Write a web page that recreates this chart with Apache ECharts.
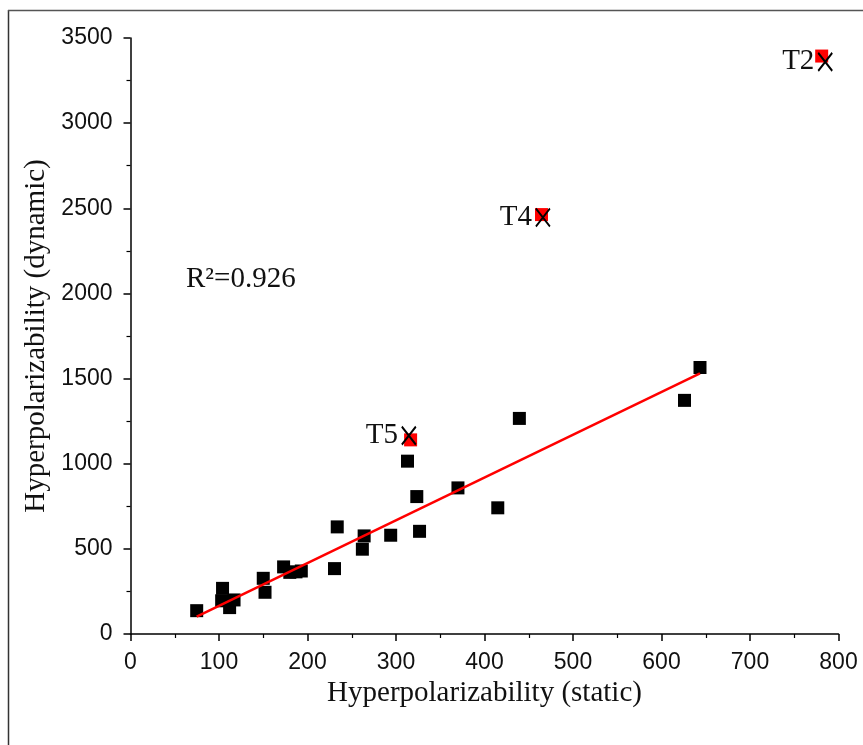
<!DOCTYPE html>
<html>
<head>
<meta charset="utf-8">
<script src="https://cdn.jsdelivr.net/npm/echarts@6/dist/echarts.min.js"></script>
<style>
  html, body { margin: 0; padding: 0; background: #fff; }
  #chart { width: 863px; height: 745px; }
</style>
</head>
<body>
<div id="chart"></div>
<script>
// 普通点 (static, dynamic)
var staticVals = [74.8, 104, 103, 112, 117, 150, 152, 173, 180, 187, 193, 230.5, 233.6, 262, 264, 294, 313, 323.5, 326.6, 370, 415, 439.4, 626, 643.5];
var dynamicVals = [137, 268, 195, 155, 200, 327, 245, 394, 362, 365, 370, 384, 629, 498, 576, 580, 1015, 807, 603, 858, 741, 1266, 1372, 1565];

// 离群点 T2 / T4 / T5
var outlierNames = ['T2', 'T4', 'T5'];
var outlierStatic = [781, 464.4, 316.5];
var outlierDynamic = [3394, 2463, 1140];
var crossStatic = [785, 466, 314.5];
var crossDynamic = [3360, 2446, 1165];

// 拟合直线
var fitX = [74.8, 643.5];
var fitY = [102, 1531];

var xTicks = [0, 100, 200, 300, 400, 500, 600, 700, 800];
var yTicks = [0, 500, 1000, 1500, 2000, 2500, 3000, 3500];

function pairs(a, b) {
  return a.map(function (v, i) { return [v, b[i]]; });
}

var serif = '"Liberation Serif", "Times New Roman", serif';
var sans = '"Liberation Sans", Arial, sans-serif';

var chart = echarts.init(document.getElementById('chart'));

var option = {
  animation: false,
  grid: { left: 130.5, right: 24.5, top: 38, bottom: 111 },
  xAxis: {
    type: 'value',
    min: xTicks[0],
    max: xTicks[xTicks.length - 1],
    interval: 100,
    name: 'Hyperpolarizability (static)',
    nameLocation: 'middle',
    nameGap: 32,
    nameTextStyle: { fontFamily: serif, fontSize: 29, color: '#111' },
    axisLine: { lineStyle: { color: '#000', width: 1.5 } },
    axisTick: { length: 7, lineStyle: { color: '#000', width: 1.5 } },
    minorTick: { show: true, splitNumber: 2, length: 4, lineStyle: { color: '#000', width: 1.2 } },
    axisLabel: { fontFamily: sans, fontSize: 23, color: '#111', margin: 17, formatter: function (v) { return String(v); } },
    splitLine: { show: false }
  },
  yAxis: {
    type: 'value',
    min: yTicks[0],
    max: yTicks[yTicks.length - 1],
    interval: 500,
    name: 'Hyperpolarizability (dynamic)',
    nameLocation: 'middle',
    nameGap: 76,
    nameTextStyle: { fontFamily: serif, fontSize: 29, color: '#111' },
    axisLine: { show: true, lineStyle: { color: '#000', width: 1.5 } },
    axisTick: { show: true, length: 7, lineStyle: { color: '#000', width: 1.5 } },
    minorTick: { show: true, splitNumber: 2, length: 4, lineStyle: { color: '#000', width: 1.2 } },
    axisLabel: { fontFamily: sans, fontSize: 23, color: '#111', margin: 18, formatter: function (v) { return String(v); } },
    splitLine: { show: false }
  },
  graphic: [
    { type: 'line', shape: { x1: 8.5, y1: 10, x2: 8.5, y2: 745 }, style: { stroke: '#333', lineWidth: 1.5 } },
    { type: 'line', shape: { x1: 8, y1: 10.5, x2: 863, y2: 10.5 }, style: { stroke: '#555', lineWidth: 1.5 } },
    { type: 'text', left: 186, top: 265, style: { text: 'R²=0.926', font: '29px ' + serif, fill: '#111' } }
  ],
  series: [
    {
      type: 'line',
      data: pairs(fitX, fitY),
      showSymbol: false,
      lineStyle: { color: '#ff0000', width: 2.5 },
      z: 3
    },
    {
      type: 'scatter',
      data: pairs(staticVals, dynamicVals),
      symbol: 'rect',
      symbolSize: 13,
      itemStyle: { color: '#000', opacity: 1 },
      z: 2
    },
    {
      type: 'scatter',
      data: pairs(outlierStatic, outlierDynamic),
      symbol: 'rect',
      symbolSize: 13,
      itemStyle: { color: '#ff0000', opacity: 1 },
      z: 4
    },
    {
      type: 'scatter',
      data: pairs(crossStatic, crossDynamic).map(function (p, i) {
        return { value: p, name: outlierNames[i] };
      }),
      symbol: 'path://M0,0L14,18M14,0L0,18',
      symbolSize: [14, 18],
      itemStyle: { color: 'transparent', borderColor: '#000', borderWidth: 2, opacity: 1 },
      label: {
        show: true,
        position: 'left',
        distance: 3,
        formatter: '{b}',
        fontFamily: serif,
        fontSize: 29,
        color: '#111'
      },
      z: 5
    }
  ]
};

chart.setOption(option);
window.addEventListener('resize', function () { chart.resize(); });
</script>
</body>
</html>
